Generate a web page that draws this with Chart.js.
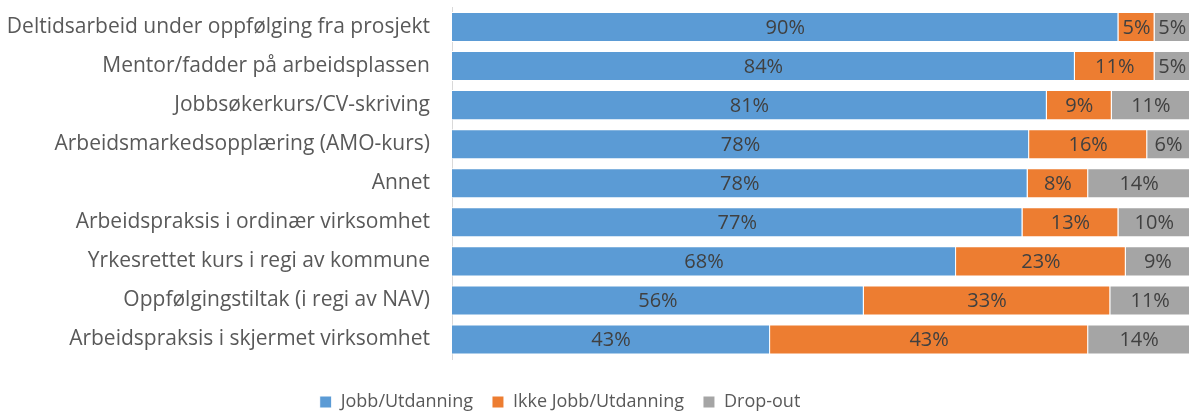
<!DOCTYPE html>
<html>
<head>
<meta charset="utf-8">
<script src="https://cdn.jsdelivr.net/npm/chart.js@4"></script>
<style>
  html, body { margin: 0; padding: 0; background: #fff; }
  #wrap { width: 1192px; height: 414px; }
</style>
</head>
<body>
<div id="wrap"><canvas id="chart" width="1192" height="414"></canvas></div>
<script>
const categories = [
  "Deltidsarbeid under oppfølging fra prosjekt",
  "Mentor/fadder på arbeidsplassen",
  "Jobbsøkerkurs/CV-skriving",
  "Arbeidsmarkedsopplæring (AMO-kurs)",
  "Annet",
  "Arbeidspraksis i ordinær virksomhet",
  "Yrkesrettet kurs i regi av kommune",
  "Oppfølgingstiltak (i regi av NAV)",
  "Arbeidspraksis i skjermet virksomhet"
];
const seriesNames = ["Jobb/Utdanning", "Ikke Jobb/Utdanning", "Drop-out"];
const jobb = [90.3, 84.4, 80.6, 78.2, 78.0, 77.3, 68.3, 55.8, 43.1];
const ikkeJobb = [4.9, 10.8, 8.8, 16.0, 8.2, 13.0, 23.0, 33.4, 43.1];
const dropOut = [4.8, 4.8, 10.6, 5.8, 13.8, 9.7, 8.7, 10.8, 13.8];
const colors = ["#5b9bd5", "#ed7d31", "#a5a5a5"];

const FONT = "'Open Sans', sans-serif";

// percentage labels centred in each segment
const segLabels = {
  id: "segLabels",
  afterDatasetsDraw(chart) {
    const ctx = chart.ctx;
    ctx.save();
    ctx.font = "20px " + FONT;
    ctx.fillStyle = "#404040";
    ctx.textAlign = "center";
    ctx.textBaseline = "middle";
    chart.data.datasets.forEach((ds, i) => {
      chart.getDatasetMeta(i).data.forEach((bar, j) => {
        const x = (bar.x + bar.base) / 2;
        ctx.fillText(Math.round(ds.data[j]) + "%", x, bar.y + 1);
      });
    });
    ctx.restore();
  }
};

// Excel puts the legend a bit left of centre and lower down
const legendShift = {
  id: "legendShift",
  afterLayout(chart) {
    const lg = chart.legend;
    lg.left -= 35;
    lg.right -= 35;
    lg.top += 15;
    lg.bottom += 15;
  }
};

new Chart(document.getElementById("chart"), {
  type: "bar",
  data: {
    labels: categories,
    datasets: [
      { label: seriesNames[0], data: jobb, backgroundColor: colors[0] },
      { label: seriesNames[1], data: ikkeJobb, backgroundColor: colors[1] },
      { label: seriesNames[2], data: dropOut, backgroundColor: colors[2] }
    ]
  },
  options: {
    indexAxis: "y",
    responsive: false,
    animation: false,
    datasets: { bar: { barPercentage: 0.77, categoryPercentage: 1.0, borderColor: "#ffffff", borderWidth: 1 } },
    layout: { padding: { top: 7.5, right: 2, left: 0, bottom: 8 } },
    scales: {
      x: { stacked: true, min: 0, max: 100, display: false },
      y: {
        stacked: true,
        grid: { display: false, drawTicks: false },
        border: { display: true, color: "#d9d9d9", width: 1 },
        ticks: { color: "#595959", font: { family: FONT, size: 21 }, padding: 22 },
        afterFit(scale) {
          scale.width = 452;
          scale.paddingTop = 0;
          scale.paddingBottom = 0;
        }
      }
    },
    plugins: {
      legend: {
        position: "bottom",
        labels: {
          color: "#595959",
          font: { family: FONT, size: 18 },
          boxWidth: 12,
          boxHeight: 12,
          padding: 19
        }
      },
      tooltip: { enabled: false }
    }
  },
  plugins: [segLabels, legendShift]
});
</script>
</body>
</html>
